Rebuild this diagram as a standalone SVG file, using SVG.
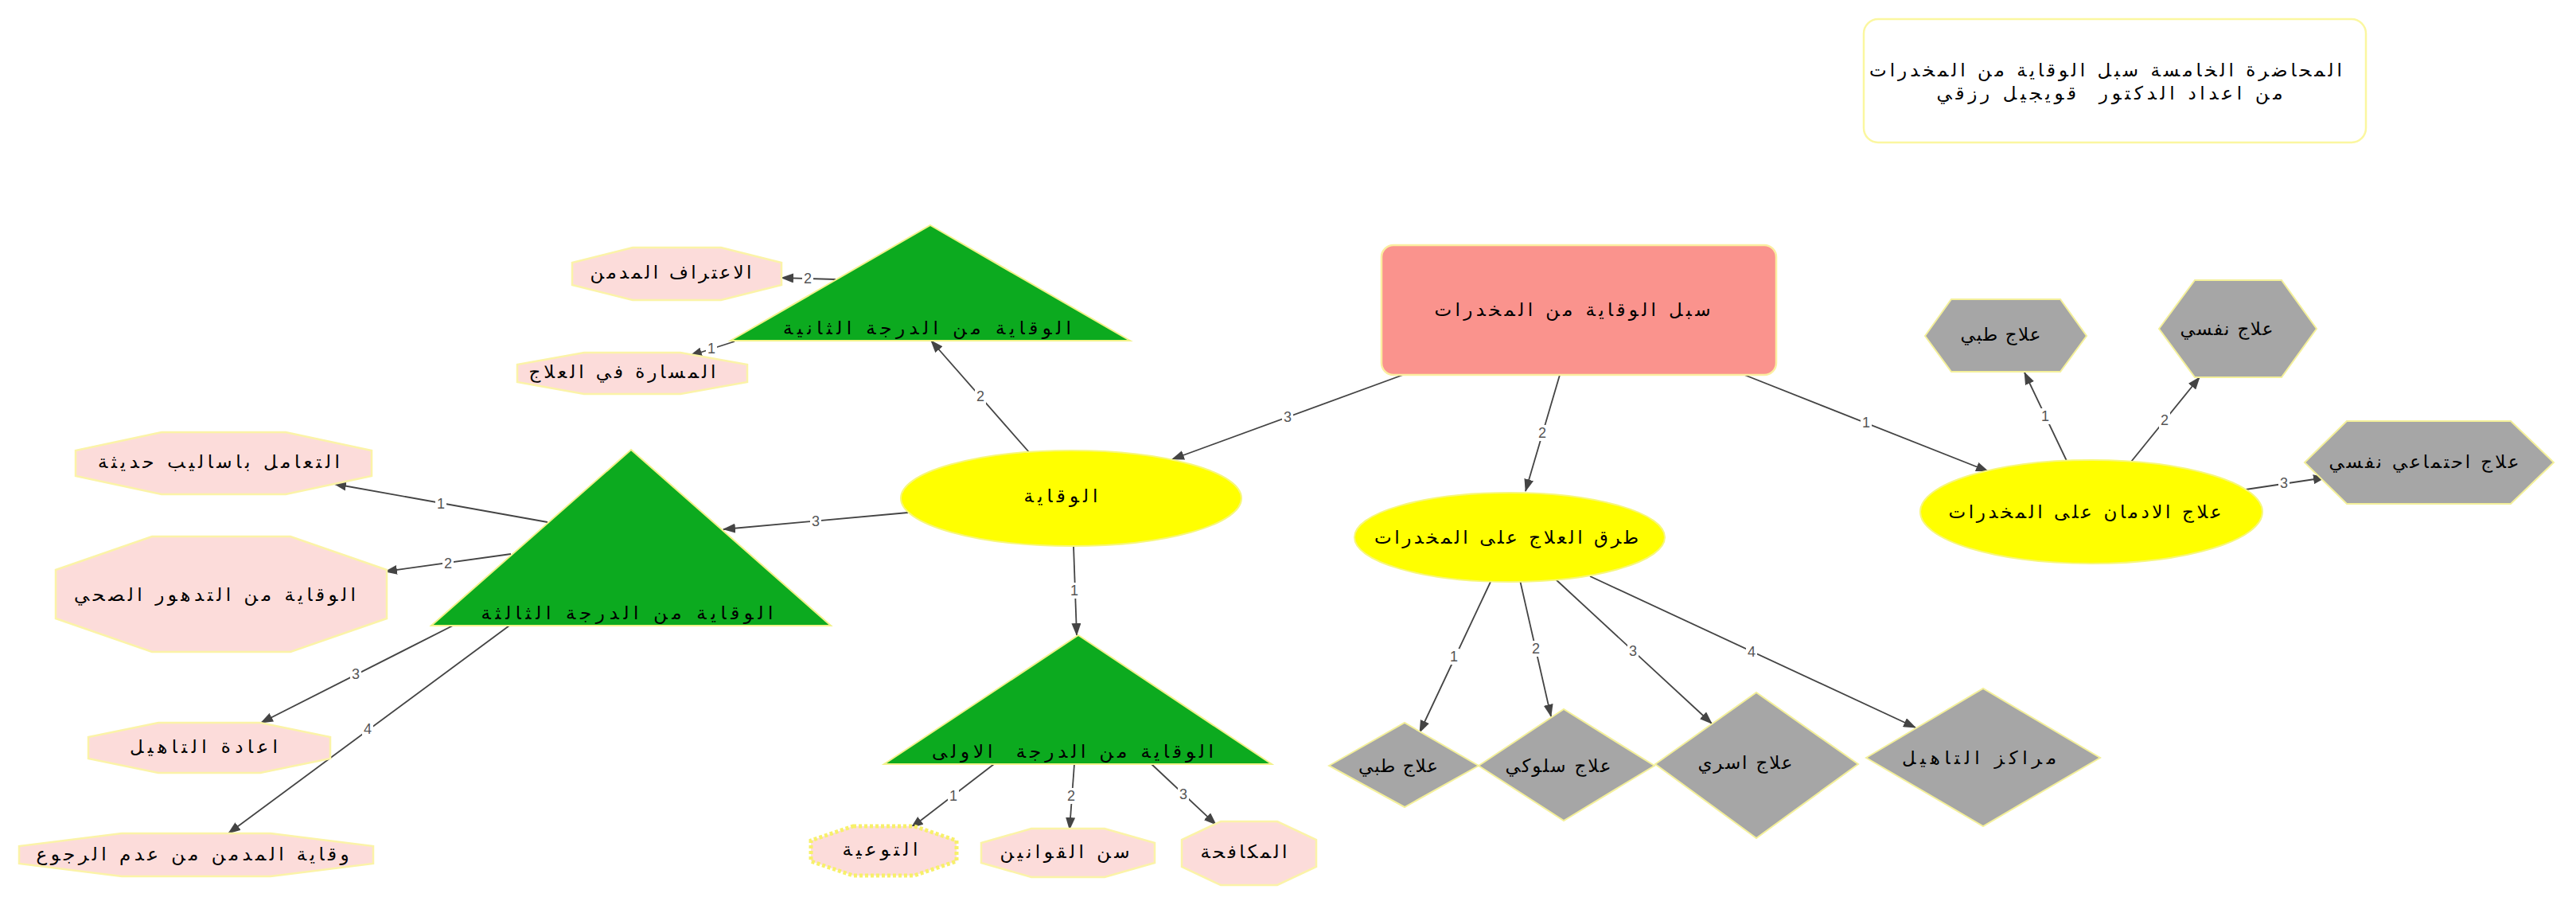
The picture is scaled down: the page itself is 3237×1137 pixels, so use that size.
<svg xmlns="http://www.w3.org/2000/svg" width="3237" height="1137" viewBox="0 0 3237 1137">
<defs>
<marker id="ah" markerUnits="userSpaceOnUse" markerWidth="16" markerHeight="12" refX="15" refY="6" orient="auto">
<path d="M0,0 L16,6 L0,12 z" fill="#444"/>
</marker>
<style>
.t{font-family:"DejaVu Sans",sans-serif;font-size:23px;fill:#000;text-anchor:middle}
.pre{white-space:pre}
.oct{fill:#fcdcda;stroke:#fbf3a8;stroke-width:2.5}
.tri{fill:#0caa1f;stroke:#f2f28a;stroke-width:2}
.ell{fill:#ffff00;stroke:#f7f77a;stroke-width:2}
.gray{fill:#a6a6a6;stroke:#f4f09a;stroke-width:2}
.e{stroke:#444;stroke-width:1.8;fill:none;marker-end:url(#ah)}
.lb{font-family:"Liberation Sans",sans-serif;font-size:18px;fill:#555;text-anchor:middle}
.lbg{fill:#fff}
</style>
</defs>
<rect width="3237" height="1137" fill="#fff"/>

<g id="connectors">
<line class="e" x1="1763" y1="471" x2="1473" y2="577"/>
<line class="e" x1="1960" y1="471" x2="1917" y2="617"/>
<line class="e" x1="2192" y1="471" x2="2498" y2="592"/>
<line class="e" x1="1293" y1="568" x2="1170" y2="428"/>
<line class="e" x1="1141" y1="644" x2="909" y2="665"/>
<line class="e" x1="1349" y1="686" x2="1353" y2="798"/>
<line class="e" x1="1050" y1="351" x2="982" y2="349"/>
<line class="e" x1="923" y1="429" x2="867" y2="447"/>
<line class="e" x1="688" y1="656" x2="420" y2="608"/>
<line class="e" x1="642" y1="696" x2="484" y2="718"/>
<line class="e" x1="569" y1="786" x2="328" y2="908"/>
<line class="e" x1="640" y1="786" x2="287" y2="1047"/>
<line class="e" x1="1249" y1="960" x2="1145" y2="1040"/>
<line class="e" x1="1350" y1="960" x2="1344" y2="1042"/>
<line class="e" x1="1447" y1="960" x2="1528" y2="1036"/>
<line class="e" x1="1873" y1="731" x2="1784" y2="920"/>
<line class="e" x1="1910" y1="729" x2="1949" y2="900"/>
<line class="e" x1="1955" y1="728" x2="2151" y2="909"/>
<line class="e" x1="1998" y1="724" x2="2407" y2="914"/>
<line class="e" x1="2597" y1="579" x2="2544" y2="468"/>
<line class="e" x1="2678" y1="580" x2="2764" y2="474"/>
<line class="e" x1="2822" y1="615" x2="2922" y2="600"/>
<g>
<rect class="lbg" x="1611" y="514" width="14" height="20"/><text class="lb" x="1618" y="530">3</text>
<rect class="lbg" x="1931" y="534" width="14" height="20"/><text class="lb" x="1938" y="550">2</text>
<rect class="lbg" x="2338" y="521" width="14" height="20"/><text class="lb" x="2345" y="537">1</text>
<rect class="lbg" x="1225" y="488" width="14" height="20"/><text class="lb" x="1232" y="504">2</text>
<rect class="lbg" x="1018" y="645" width="14" height="20"/><text class="lb" x="1025" y="661">3</text>
<rect class="lbg" x="1343" y="732" width="14" height="20"/><text class="lb" x="1350" y="748">1</text>
<rect class="lbg" x="1008" y="340" width="14" height="20"/><text class="lb" x="1015" y="356">2</text>
<rect class="lbg" x="887" y="428" width="14" height="20"/><text class="lb" x="894" y="444">1</text>
<rect class="lbg" x="547" y="623" width="14" height="20"/><text class="lb" x="554" y="639">1</text>
<rect class="lbg" x="556" y="698" width="14" height="20"/><text class="lb" x="563" y="714">2</text>
<rect class="lbg" x="440" y="837" width="14" height="20"/><text class="lb" x="447" y="853">3</text>
<rect class="lbg" x="455" y="906" width="14" height="20"/><text class="lb" x="462" y="922">4</text>
<rect class="lbg" x="1191" y="990" width="14" height="20"/><text class="lb" x="1198" y="1006">1</text>
<rect class="lbg" x="1339" y="990" width="14" height="20"/><text class="lb" x="1346" y="1006">2</text>
<rect class="lbg" x="1480" y="988" width="14" height="20"/><text class="lb" x="1487" y="1004">3</text>
<rect class="lbg" x="1820" y="815" width="14" height="20"/><text class="lb" x="1827" y="831">1</text>
<rect class="lbg" x="1923" y="805" width="14" height="20"/><text class="lb" x="1930" y="821">2</text>
<rect class="lbg" x="2045" y="808" width="14" height="20"/><text class="lb" x="2052" y="824">3</text>
<rect class="lbg" x="2194" y="809" width="14" height="20"/><text class="lb" x="2201" y="825">4</text>
<rect class="lbg" x="2563" y="513" width="14" height="20"/><text class="lb" x="2570" y="529">1</text>
<rect class="lbg" x="2713" y="518" width="14" height="20"/><text class="lb" x="2720" y="534">2</text>
<rect class="lbg" x="2863" y="597" width="14" height="20"/><text class="lb" x="2870" y="613">3</text>
</g>
</g>

<g id="title">
<rect x="2342" y="24" width="631" height="155" rx="18" fill="#fff" stroke="#fbf7a0" stroke-width="2.5"/>
<text class="t" x="2646" y="96" textLength="594" lengthAdjust="spacing">المحاضرة الخامسة سبل الوقاية من المخدرات</text>
<text class="t pre" x="2651" y="125" textLength="435" lengthAdjust="spacing">من اعداد الدكتور  قويجيل رزقي</text>
</g>

<g id="n-main">
<rect x="1736" y="308" width="496" height="163" rx="15" fill="#fa938d" stroke="#fbeea0" stroke-width="2.5"/>
<text class="t" x="1976" y="397" textLength="347" lengthAdjust="spacing">سبل الوقاية من المخدرات</text>
</g>

<g id="n-wiqaya">
<ellipse class="ell" cx="1346" cy="626" rx="214" ry="60"/>
<text class="t" x="1333" y="631" textLength="93" lengthAdjust="spacing">الوقاية</text>
</g>

<g id="n-turuq">
<ellipse class="ell" cx="1897" cy="675" rx="195" ry="56"/>
<text class="t" x="1893" y="683" textLength="332" lengthAdjust="spacing">طرق العلاج على المخدرات</text>
</g>

<g id="n-idman">
<ellipse class="ell" cx="2628" cy="643" rx="215" ry="65"/>
<text class="t" x="2620" y="651" textLength="343" lengthAdjust="spacing">علاج الادمان على المخدرات</text>
</g>

<g id="n-tri2">
<polygon class="tri" points="1169,283 1420,428 918,428"/>
<text class="t" x="1165" y="420" textLength="362" lengthAdjust="spacing">الوقاية من الدرجة الثانية</text>
</g>

<g id="n-tri3">
<polygon class="tri" points="793,565 1044,786 542,786"/>
<text class="t" x="788" y="778" textLength="367" lengthAdjust="spacing">الوقاية من الدرجة الثالثة</text>
</g>

<g id="n-tri1">
<polygon class="tri" points="1355,798 1598,960 1111,960"/>
<text class="t pre" x="1348" y="952" textLength="354" lengthAdjust="spacing">الوقاية من الدرجة  الاولى</text>
</g>

<g id="n-itiraf">
<polygon class="oct" points="795,311 906,311 982,330 982,358 906,377 795,377 719,358 719,330"/>
<text class="t" x="843" y="350" textLength="203" lengthAdjust="spacing">الاعتراف المدمن</text>
</g>

<g id="n-musara">
<polygon class="oct" points="734,443 855,443 939,458 939,480 855,495 734,495 650,480 650,458"/>
<text class="t" x="782" y="475" textLength="235" lengthAdjust="spacing">المسارة في العلاج</text>
</g>

<g id="n-taamul">
<polygon class="oct" points="203,543 359,543 467,566 467,598 359,621 203,621 95,598 95,566"/>
<text class="t" x="275" y="588" textLength="304" lengthAdjust="spacing">التعامل باساليب حديثة</text>
</g>

<g id="n-tadahwur">
<polygon class="oct" points="191,674 365,674 486,716 486,777 365,819 191,819 70,777 70,716"/>
<text class="t" x="270" y="755" textLength="354" lengthAdjust="spacing">الوقاية من التدهور الصحي</text>
</g>

<g id="n-taahil">
<polygon class="oct" points="199,908 327,908 415,926 415,953 327,971 199,971 111,953 111,926"/>
<text class="t" x="256" y="946" textLength="186" lengthAdjust="spacing">اعادة التاهيل</text>
</g>

<g id="n-rujue">
<polygon class="oct" points="153,1047 340,1047 469,1063 469,1085 340,1101 153,1101 24,1085 24,1063"/>
<text class="t" x="242" y="1081" textLength="393" lengthAdjust="spacing">وقاية المدمن من عدم الرجوع</text>
</g>

<g id="n-tawiya">
<polygon points="1072,1038 1149,1038 1202,1056 1202,1082 1149,1100 1072,1100 1019,1082 1019,1056" fill="#fcdcda" stroke="#f7f06a" stroke-width="5" stroke-dasharray="4 3"/>
<text class="t" x="1106" y="1075" textLength="95" lengthAdjust="spacing">التوعية</text>
</g>

<g id="n-qawanin">
<polygon class="oct" points="1296,1041 1388,1041 1451,1059 1451,1084 1388,1102 1296,1102 1233,1084 1233,1059"/>
<text class="t" x="1338" y="1078" textLength="163" lengthAdjust="spacing">سن القوانين</text>
</g>

<g id="n-mukafaha">
<polygon class="oct" points="1534,1032 1605,1032 1654,1055 1654,1089 1605,1112 1534,1112 1485,1089 1485,1055"/>
<text class="t" x="1563" y="1078" textLength="109" lengthAdjust="spacing">المكافحة</text>
</g>

<g id="n-d-tibbi">
<polygon class="gray" points="1670,962 1765,908 1858,962 1765,1014"/>
<text class="t" x="1757" y="970" textLength="100" lengthAdjust="spacing">علاج طبي</text>
</g>

<g id="n-d-suluki">
<polygon class="gray" points="1858,962 1965,891 2079,962 1965,1031"/>
<text class="t" x="1958" y="970" textLength="133" lengthAdjust="spacing">علاج سلوكي</text>
</g>

<g id="n-d-usari">
<polygon class="gray" points="2080,960 2207,870 2335,960 2207,1053"/>
<text class="t" x="2193" y="966" textLength="119" lengthAdjust="spacing">علاج اسري</text>
</g>

<g id="n-d-marakiz">
<polygon class="gray" points="2345,952 2492,865 2639,952 2492,1038"/>
<text class="t" x="2487" y="960" textLength="194" lengthAdjust="spacing">مراكز التاهيل</text>
</g>

<g id="n-h-tibbi">
<polygon class="gray" points="2419,422 2452,376 2589,376 2622,422 2589,467 2452,467"/>
<text class="t" x="2514" y="428" textLength="101" lengthAdjust="spacing">علاج طبي</text>
</g>

<g id="n-h-nafsi">
<polygon class="gray" points="2713,413 2758,352 2867,352 2911,413 2867,474 2758,474"/>
<text class="t" x="2798" y="421" textLength="117" lengthAdjust="spacing">علاج نفسي</text>
</g>

<g id="n-h-ijtimai">
<polygon class="gray" points="2896,581 2949,529 3155,529 3209,581 3155,633 2949,633"/>
<text class="t" x="3046" y="588" textLength="239" lengthAdjust="spacing">علاج احتماعي نفسي</text>
</g>
</svg>
